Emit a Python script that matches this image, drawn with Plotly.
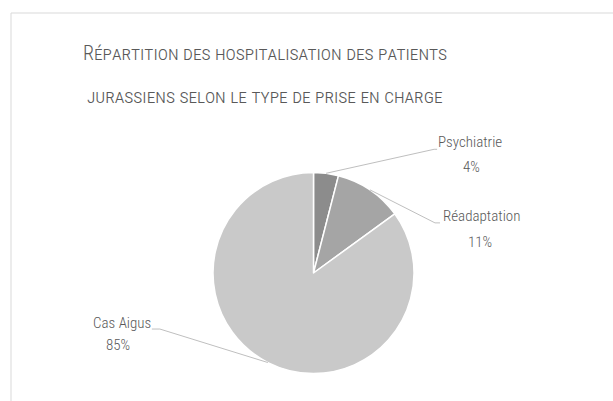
import math
import plotly.graph_objects as go

categories = ["Psychiatrie", "Réadaptation", "Cas Aigus"]
values = [4, 11, 85]
colors = ["#8c8c8c", "#a5a5a5", "#c9c9c9"]
title_lines = ["Répartition des hospitalisation des patients",
               "jurassiens selon le type de prise en charge"]

W, H = 613, 401
FONT = "Roboto Condensed, Liberation Sans Narrow, DejaVu Sans Condensed, sans-serif"
TXT = "#595959"

# pie geometry (pixels)
cx, cy, r = 313.5, 273, 100.5
# label layout relative to slice anchor (pixels): elbow, leader end, name centre, pct centre
label_layout = {
    "Psychiatrie": dict(elbow=(108, -24), end=(111, -24), name=(144, -31), pct=(145, -6)),
    "Réadaptation": dict(elbow=(65, 33), end=(70, 33), name=(112, 26), pct=(110, 52)),
    "Cas Aigus": dict(elbow=(-108, -33.5), end=(-116, -33.5), name=(-146, -40), pct=(-150, -18)),
}

fig = go.Figure()
fig.add_trace(go.Pie(
    labels=categories, values=values, sort=False, direction="clockwise", rotation=0,
    marker=dict(colors=colors, line=dict(color="white", width=1.5)),
    textinfo="none", hoverinfo="label+percent", showlegend=False,
    domain=dict(x=[(cx - r) / W, (cx + r) / W], y=[1 - (cy + r) / H, 1 - (cy - r) / H]),
))

def px(x, y):
    return x / W, 1 - y / H

shapes = []
annotations = []
total = sum(values)
cum = 0
for cat, v in zip(categories, values):
    mid = (cum + v / 2) / total * 2 * math.pi
    cum += v
    ax, ay = cx + r * math.sin(mid), cy - r * math.cos(mid)
    L = label_layout[cat]
    ex, ey = ax + L["elbow"][0], ay + L["elbow"][1]
    hx, hy = ax + L["end"][0], ay + L["end"][1]
    for (x0, y0, x1, y1) in [(ax, ay, ex, ey), (ex, ey, hx, hy)]:
        a0, b0 = px(x0, y0)
        a1, b1 = px(x1, y1)
        shapes.append(dict(type="line", xref="paper", yref="paper", x0=a0, y0=b0, x1=a1, y1=b1,
                           line=dict(color="#bfbfbf", width=1)))
    pct = round(v / total * 100)
    for key, txt in [("name", cat), ("pct", f"{pct}%")]:
        lx, ly = px(ax + L[key][0], ay + L[key][1])
        annotations.append(dict(
            x=lx, y=ly, xref="paper", yref="paper", showarrow=False,
            xanchor="center", yanchor="middle", text=txt,
            font=dict(family=FONT, size=15, color=TXT, weight=300),
        ))

for line, yy in zip(title_lines, [53.5, 96.5]):
    tx, ty = px(265, yy)
    annotations.append(dict(x=tx, y=ty, xref="paper", yref="paper", showarrow=False,
                            xanchor="center", yanchor="middle", text=line,
                            font=dict(family=FONT, size=20, color=TXT, weight=300,
                                      variant="small-caps")))

# chart frame
shapes.append(dict(type="rect", xref="paper", yref="paper",
                   x0=11 / W, y0=-0.05, x1=1.05, y1=1 - 13 / H,
                   line=dict(color="#d9d9d9", width=1), layer="below"))

fig.update_layout(
    width=W, height=H, margin=dict(l=0, r=0, t=0, b=0),
    paper_bgcolor="white", plot_bgcolor="white",
    shapes=shapes, annotations=annotations,
)
fig.write_html("out.html", config={"displayModeBar": False},
               post_script="document.body.style.margin='0';")
